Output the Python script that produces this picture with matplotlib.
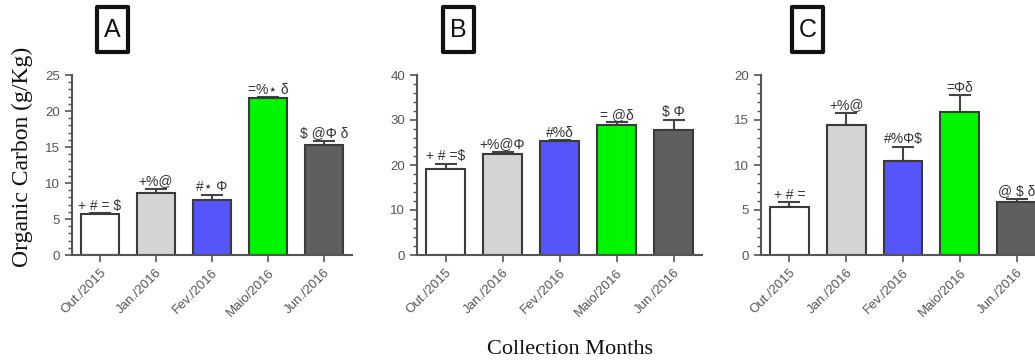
import matplotlib
matplotlib.use("Agg")
import matplotlib.pyplot as plt
from matplotlib.ticker import MultipleLocator
from matplotlib.patches import Rectangle

months = ["Out./2015", "Jan./2016", "Fev./2016", "Maio/2016", "Jun./2016"]
colors = ["#ffffff", "#d4d4d4", "#5555fa", "#00f500", "#5f5f5f"]

a_vals = [5.7, 8.6, 7.7, 21.8, 15.3]
a_err = [0.1, 0.6, 0.7, 0.1, 0.6]
a_labels = ["+ # = $", "+%@", "#⋆ Φ", "=%⋆ δ", "$ @Φ δ"]

b_vals = [19.1, 22.4, 25.4, 28.8, 27.8]
b_err = [1.1, 0.6, 0.1, 0.7, 2.3]
b_labels = ["+ # =$", "+%@Φ", "#%δ", "= @δ", "$ Φ"]

c_vals = [5.35, 14.4, 10.4, 15.85, 5.9]
c_err = [0.5, 1.4, 1.6, 1.9, 0.35]
c_labels = ["+ # =", "+%@", "#%Φ$", "=Φδ", "@ $ δ"]

panels = [
    ("A", a_vals, a_err, a_labels, 25, 5, 1),
    ("B", b_vals, b_err, b_labels, 40, 10, 2),
    ("C", c_vals, c_err, c_labels, 20, 5, 1),
]

W, H = 1035, 361
fig = plt.figure(figsize=(W / 100, H / 100), dpi=100)
plt.rcParams['font.family'] = ['Liberation Sans', 'DejaVu Sans']

axes_px = [(72, 280), (417, 285), (761, 284)]
box_px = [97, 443, 792]
grey = "#555555"

for (letter, vals, errs, labels, ymax, major, minor), (lx, wx), bx in zip(panels, axes_px, box_px):
    ax = fig.add_axes([lx / W, (H - 255) / H, wx / W, 180 / H])
    x = list(range(len(months)))
    ax.bar(x, vals, width=0.68, color=colors, edgecolor="#3a3a3a", linewidth=1.5, zorder=2)
    ax.errorbar(x, vals, yerr=[[0] * len(vals), errs], fmt="none", ecolor="#444444",
                elinewidth=1.5, capsize=8, capthick=1.5, zorder=1)
    for xi, v, e, lab in zip(x, vals, errs, labels):
        ax.annotate(lab, (xi, v + e), xytext=(0, 0.5), textcoords="offset points",
                    ha="center", va="bottom", fontsize=10, color="#333333")
    ax.set_xlim(-0.5, 4.5)
    ax.set_ylim(0, ymax)
    ax.yaxis.set_major_locator(MultipleLocator(major))
    ax.yaxis.set_minor_locator(MultipleLocator(minor))
    ax.set_xticks(x)
    ax.set_xticklabels(months, rotation=45, ha="right", rotation_mode="anchor",
                       fontsize=9.5, color=grey)
    ax.tick_params(axis="y", labelsize=9.5, labelcolor=grey, color=grey, width=1.2, length=5)
    ax.tick_params(axis="y", which="minor", color=grey, width=1, length=3)
    ax.tick_params(axis="x", color=grey, width=1.2, length=5)
    for s in ("top", "right"):
        ax.spines[s].set_visible(False)
    for s in ("left", "bottom"):
        ax.spines[s].set_color(grey)
        ax.spines[s].set_linewidth(1.5)
    rect = Rectangle((bx / W, 1 - 52 / H), 31 / W, 45 / H, transform=fig.transFigure,
                     facecolor="white", edgecolor="#111111", linewidth=3, joinstyle="round")
    fig.add_artist(rect)
    fig.text((bx + 15.5) / W, 1 - 30 / H, letter, ha="center", va="center", fontsize=18,
             color="#111111")

fig.text(22 / W, 1 - 157 / H, "Organic Carbon (g/Kg)", rotation=90, ha="center", va="center",
         fontsize=17, family="Liberation Serif", color="#111111")
fig.text(570 / W, 1 - 349 / H, "Collection Months", ha="center", va="center",
         fontsize=16, family="Liberation Serif", color="#111111")

fig.savefig("out.png", dpi=100)
